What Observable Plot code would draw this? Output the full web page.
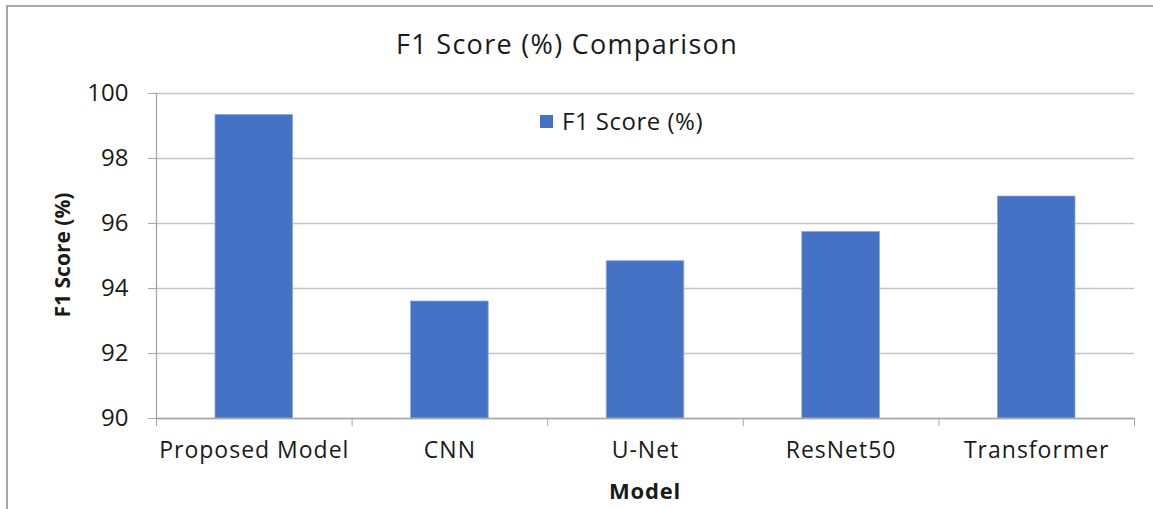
<!DOCTYPE html>
<html>
<head>
<meta charset="utf-8">
<script src="https://cdn.jsdelivr.net/npm/d3@7"></script>
<script src="https://cdn.jsdelivr.net/npm/@observablehq/plot@0.6"></script>
<style>
  html, body { margin: 0; padding: 0; background: #fff; }
  #wrap { position: relative; width: 1153px; height: 509px; overflow: hidden; font-family: "Open Sans", sans-serif; color: #1a1a1a; }
  #border { position: absolute; left: 6px; top: 5px; width: 1300px; height: 700px; border-top: 2px solid #a6a6a6; border-left: 2px solid #a6a6a6; }
  #chart { position: absolute; left: 0; top: 0; }
  .ov { position: absolute; white-space: nowrap; line-height: 1; }
  #title { left: 267px; width: 600px; top: 30px; text-align: center; font-size: 27px; letter-spacing: 1.3px; }
  #legend { left: 540px; top: 109px; font-size: 24px; letter-spacing: 0.5px; display: flex; align-items: center; }
  #legend .sw { width: 13px; height: 13px; background: #4472C4; margin-right: 9px; }
  #ylab { left: 62px; top: 255px; transform: translate(-50%, -50%) rotate(-90deg); font-size: 21px; font-weight: bold; }
  #xlab { left: 645px; top: 490px; transform: translate(-50%, -50%); font-size: 22px; font-weight: bold; letter-spacing: 0.8px; }
  #chart svg g[aria-label="x-axis tick label"] text { letter-spacing: 1px; }
</style>
</head>
<body>
<div id="wrap">
  <div id="border"></div>
  <div id="chart"></div>
  <div class="ov" id="title">F1 Score (%) Comparison</div>
  <div class="ov" id="legend"><div class="sw"></div><span>F1 Score (%)</span></div>
  <div class="ov" id="ylab">F1 Score (%)</div>
  <div class="ov" id="xlab">Model</div>
</div>
<script>
const models = ["Proposed Model", "CNN", "U-Net", "ResNet50", "Transformer"];
const f1Scores = [99.34, 93.6, 94.84, 95.74, 96.83];
const yTicks = [90, 92, 94, 96, 98, 100];
const yDomain = [90, 100];

const data = models.map((m, i) => ({model: m, idx: i, value: f1Scores[i]}));

const chart = Plot.plot({
  width: 1153,
  height: 509,
  marginTop: 93,
  marginLeft: 156,
  marginRight: 19,
  marginBottom: 91,
  style: {fontFamily: "Open Sans, sans-serif", fontSize: "24px", color: "#1a1a1a", background: "transparent"},
  x: {domain: [0, models.length], axis: null},
  y: {domain: yDomain, axis: null},
  marks: [
    Plot.gridY(yTicks, {stroke: "#c4c4c4", strokeOpacity: 1, strokeWidth: 1.3}),
    Plot.rectY(data, {
      x1: d => d.idx, x2: d => d.idx + 1,
      y1: () => yDomain[0], y2: "value",
      insetLeft: 59, insetRight: 59,
      fill: "#4472C4", stroke: "#8eaadb", strokeWidth: 0.8
    }),
    Plot.ruleX([0], {y1: yDomain[0], y2: yDomain[1], stroke: "#a6a6a6", strokeWidth: 1.3}),
    Plot.ruleY([yDomain[0]], {stroke: "#a6a6a6", strokeWidth: 1.3}),
    Plot.axisY({ticks: yTicks, tickSize: 8, tickPadding: 20, stroke: "#a6a6a6", fontSize: 24, label: null}),
    Plot.axisX({ticks: d3.range(0, models.length + 1), tickSize: 8, tickFormat: () => "", stroke: "#a6a6a6", label: null}),
    Plot.axisX({ticks: models.map((_, i) => i + 0.5), tickSize: 0, tickPadding: 23, tickFormat: v => models[Math.floor(v)], fontSize: 23, label: null})
  ]
});
document.getElementById("chart").appendChild(chart);
</script>
</body>
</html>
